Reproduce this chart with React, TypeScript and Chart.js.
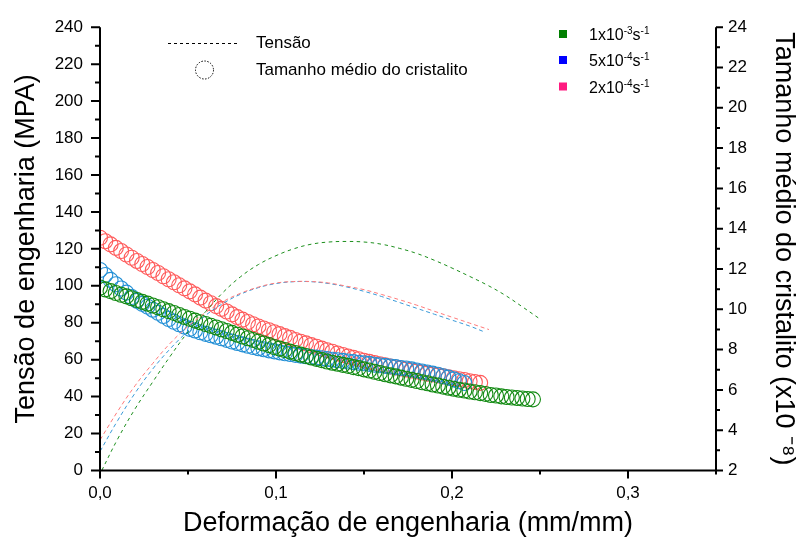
import React, { useEffect, useRef } from 'react';
import { Chart, registerables } from 'chart.js';

Chart.register(...registerables);

const FONT = "'Liberation Sans', Arial, Helvetica, sans-serif";

// ---- Stress curves (Tensão, MPa, left axis) ----
const stressStrainGreen = [0.001, 0.01, 0.02, 0.03, 0.04, 0.05, 0.06, 0.07, 0.08, 0.09, 0.1, 0.11, 0.12, 0.13, 0.14, 0.15, 0.16, 0.17, 0.18, 0.19, 0.2, 0.21, 0.22, 0.23, 0.24, 0.25];
const stressGreen = [0, 17, 33.5, 48, 62, 75, 86, 96.5, 105, 111.5, 116.3, 120, 122.5, 123.7, 124, 123.7, 122.5, 120.3, 117.5, 113.8, 109.6, 105.1, 100.4, 95, 88.6, 82];

const stressStrainRed = [0, 0.01, 0.02, 0.03, 0.04, 0.05, 0.06, 0.07, 0.08, 0.09, 0.1, 0.11, 0.12, 0.13, 0.14, 0.15, 0.16, 0.17, 0.18, 0.19, 0.2, 0.21, 0.221];
const stressRed = [16.5, 32, 46, 58, 69, 78, 85.5, 91.5, 96, 99.3, 101.5, 102.3, 102.3, 101.5, 99.8, 97.9, 95.3, 92.5, 89.5, 86.2, 83, 79.8, 76.3];

const stressStrainBlue = [0, 0.01, 0.02, 0.03, 0.04, 0.05, 0.06, 0.07, 0.08, 0.09, 0.1, 0.11, 0.12, 0.13, 0.14, 0.15, 0.16, 0.17, 0.18, 0.19, 0.2, 0.21, 0.219];
const stressBlue = [10.3, 27, 42, 55, 66, 75.5, 84, 90.5, 95.5, 99, 101.2, 102.2, 102.2, 101.2, 99.4, 97, 94.2, 91, 87.8, 84.6, 81.4, 78.2, 74.8];

// ---- Crystallite size (right axis, x10^-8) ----
const sizeStrain = [0, 0.003, 0.006, 0.009, 0.012, 0.015, 0.018, 0.021, 0.024, 0.027, 0.03, 0.033, 0.036, 0.039, 0.042, 0.045, 0.048, 0.051, 0.054, 0.057, 0.06, 0.063, 0.066, 0.069, 0.072, 0.075, 0.078, 0.081, 0.084, 0.087, 0.09, 0.093, 0.096, 0.099, 0.102, 0.105, 0.108, 0.111, 0.114, 0.117, 0.12, 0.123, 0.126, 0.129, 0.132, 0.135, 0.138, 0.141, 0.144, 0.147, 0.15, 0.153, 0.156, 0.159, 0.162, 0.165, 0.168, 0.171, 0.174, 0.177, 0.18, 0.183, 0.186, 0.189, 0.192, 0.195, 0.198, 0.201, 0.204, 0.207, 0.21, 0.213, 0.216, 0.219, 0.222, 0.225, 0.228, 0.231, 0.234, 0.237, 0.24, 0.243, 0.246];

const sizeGreen = [11.08, 10.99, 10.90, 10.81, 10.72, 10.64, 10.55, 10.46, 10.37, 10.28, 10.19, 10.10, 10.00, 9.91, 9.82, 9.72, 9.62, 9.53, 9.44, 9.36, 9.27, 9.18, 9.10, 9.01, 8.92, 8.83, 8.74, 8.65, 8.56, 8.48, 8.39, 8.30, 8.22, 8.13, 8.05, 7.98, 7.90, 7.83, 7.75, 7.68, 7.61, 7.54, 7.48, 7.41, 7.35, 7.30, 7.24, 7.19, 7.13, 7.08, 7.02, 6.96, 6.90, 6.84, 6.78, 6.72, 6.67, 6.61, 6.55, 6.50, 6.44, 6.38, 6.33, 6.27, 6.22, 6.16, 6.11, 6.06, 6.01, 5.97, 5.92, 5.88, 5.84, 5.80, 5.75, 5.72, 5.68, 5.65, 5.62, 5.60, 5.57, 5.55, 5.53];

const sizeBlue = [11.95, 11.70, 11.46, 11.24, 11.03, 10.83, 10.61, 10.42, 10.27, 10.13, 9.98, 9.83, 9.67, 9.52, 9.38, 9.26, 9.14, 9.03, 8.95, 8.86, 8.78, 8.71, 8.64, 8.56, 8.48, 8.40, 8.33, 8.26, 8.19, 8.13, 8.07, 8.02, 7.96, 7.91, 7.86, 7.82, 7.78, 7.74, 7.70, 7.67, 7.63, 7.60, 7.57, 7.53, 7.50, 7.47, 7.44, 7.41, 7.38, 7.35, 7.32, 7.29, 7.25, 7.22, 7.19, 7.16, 7.13, 7.09, 7.06, 7.02, 6.96, 6.91, 6.86, 6.81, 6.75, 6.68, 6.61, 6.52, 6.43, 6.34];

const sizeRed = [13.55, 13.38, 13.22, 13.05, 12.89, 12.72, 12.56, 12.40, 12.25, 12.10, 11.95, 11.80, 11.64, 11.49, 11.34, 11.19, 11.04, 10.89, 10.74, 10.58, 10.43, 10.30, 10.16, 10.02, 9.89, 9.75, 9.61, 9.49, 9.37, 9.26, 9.15, 9.05, 8.96, 8.86, 8.77, 8.67, 8.58, 8.48, 8.39, 8.31, 8.22, 8.14, 8.05, 7.97, 7.89, 7.81, 7.73, 7.66, 7.59, 7.52, 7.45, 7.39, 7.33, 7.27, 7.22, 7.16, 7.11, 7.06, 7.01, 6.96, 6.91, 6.86, 6.81, 6.77, 6.72, 6.67, 6.62, 6.58, 6.53, 6.49, 6.43, 6.39, 6.35];

// ---- Ticks ----
const strainLabelTicks = [0, 0.1, 0.2, 0.3];
const strainAllTicks = [0, 0.05, 0.1, 0.15, 0.2, 0.25, 0.3, 0.35];
const stressAllTicks = [0, 10, 20, 30, 40, 50, 60, 70, 80, 90, 100, 110, 120, 130, 140, 150, 160, 170, 180, 190, 200, 210, 220, 230, 240];
const sizeAllTicks = [2, 3, 4, 5, 6, 7, 8, 9, 10, 11, 12, 13, 14, 15, 16, 17, 18, 19, 20, 21, 22, 23, 24];

const COLORS = {
  greenCircle: '#128a12',
  blueCircle: '#2490d6',
  redCircle: '#ff5a5a',
  greenDash: '#1d8f1d',
  blueDash: '#3a9ad8',
  redDash: '#ff7a7a',
  legGreen: '#007f00',
  legBlue: '#0000ff',
  legPink: '#ff1a80',
};

const zip = (xs: number[], ys: number[]) => ys.map((y, i) => ({ x: xs[i], y }));

const axesPlugin = {
  id: 'originAxes',
  afterDraw(chart: any) {
    const { ctx, chartArea: a, scales } = chart;
    ctx.save();
    ctx.strokeStyle = '#000';
    ctx.lineWidth = 2;
    ctx.lineCap = 'butt';
    ctx.beginPath();
    ctx.moveTo(a.left, a.top);
    ctx.lineTo(a.left, a.bottom + 1);
    ctx.moveTo(a.left - 1, a.bottom);
    ctx.lineTo(a.right + 1, a.bottom);
    ctx.moveTo(a.right, a.top);
    ctx.lineTo(a.right, a.bottom + 1);
    stressAllTicks.forEach((v) => {
      const y = scales.y.getPixelForValue(v);
      const len = v % 20 === 0 ? 9 : 5;
      ctx.moveTo(a.left, y);
      ctx.lineTo(a.left - len, y);
    });
    sizeAllTicks.forEach((v) => {
      const y = scales.y1.getPixelForValue(v);
      const len = v % 2 === 0 ? 7 : 4;
      ctx.moveTo(a.right, y);
      ctx.lineTo(a.right + len, y);
    });
    strainAllTicks.forEach((v) => {
      const x = scales.x.getPixelForValue(v);
      const major = Math.abs(v * 10 - Math.round(v * 10)) < 1e-6;
      const len = major ? 8 : 4;
      ctx.moveTo(x, a.bottom);
      ctx.lineTo(x, a.bottom + len);
    });
    ctx.stroke();

    // legend symbols
    ctx.lineWidth = 1;
    ctx.setLineDash([3, 3]);
    ctx.beginPath();
    ctx.moveTo(168, 43.5);
    ctx.lineTo(239, 43.5);
    ctx.stroke();
    ctx.setLineDash([1.5, 1.5]);
    ctx.beginPath();
    ctx.arc(204.5, 70, 9, 0, Math.PI * 2);
    ctx.stroke();
    ctx.setLineDash([]);
    ctx.fillStyle = COLORS.legGreen;
    ctx.fillRect(559, 30, 8, 8);
    ctx.fillStyle = COLORS.legBlue;
    ctx.fillRect(559, 56, 8, 8);
    ctx.fillStyle = COLORS.legPink;
    ctx.fillRect(559, 82.5, 8, 8);
    ctx.restore();
  },
};

const tickFont = { family: FONT, size: 17 };
const titleFont = { family: FONT, size: 27 };

export default function App() {
  const canvasRef = useRef<HTMLCanvasElement>(null);

  useEffect(() => {
    const canvas = canvasRef.current;
    if (!canvas) return;
    const circle = (data: { x: number; y: number }[], color: string, order: number) => ({
      type: 'scatter' as const,
      data,
      yAxisID: 'y1',
      showLine: false,
      pointStyle: 'circle',
      pointRadius: 7.5,
      pointBorderWidth: 1.1,
      pointBorderColor: color,
      pointBackgroundColor: 'rgba(0,0,0,0)',
      borderColor: color,
      backgroundColor: 'rgba(0,0,0,0)',
      order,
      clip: { left: 0, top: false, right: false, bottom: false },
    });
    const dashed = (data: { x: number; y: number }[], color: string, dash: number[]) => ({
      type: 'scatter' as const,
      data,
      yAxisID: 'y',
      showLine: true,
      pointRadius: 0,
      borderColor: color,
      borderWidth: 1,
      borderDash: dash,
      tension: 0.4,
      fill: false,
      order: 0,
    });

    const chart = new Chart(canvas, {
      type: 'scatter',
      data: {
        datasets: [
          dashed(zip(stressStrainGreen, stressGreen), COLORS.greenDash, [3.5, 3.5]),
          dashed(zip(stressStrainRed, stressRed), COLORS.redDash, [4, 3]),
          dashed(zip(stressStrainBlue, stressBlue), COLORS.blueDash, [4, 3]),
          circle(zip(sizeStrain, sizeGreen), COLORS.greenCircle, 1),
          circle(zip(sizeStrain, sizeBlue), COLORS.blueCircle, 2),
          circle(zip(sizeStrain, sizeRed), COLORS.redCircle, 3),
        ] as any,
      },
      options: {
        animation: false,
        responsive: false,
        devicePixelRatio: 1,
        events: [],
        layout: { padding: { top: 17.5, left: 0, right: 0, bottom: 0 } },
        plugins: { legend: { display: false }, tooltip: { enabled: false } },
        scales: {
          x: {
            type: 'linear',
            position: 'bottom',
            min: 0,
            max: 0.35,
            afterBuildTicks: (s: any) => {
              s.ticks = strainLabelTicks.map((v) => ({ value: v }));
            },
            afterFit: (s: any) => {
              s.height = 70.5;
            },
            grid: { display: false, drawTicks: false },
            border: { display: false },
            ticks: {
              autoSkip: false,
              maxRotation: 0,
              padding: 13,
              color: '#000',
              font: tickFont,
              callback: (v: any) => Number(v).toFixed(1).replace('.', ','),
            },
            title: {
              display: true,
              text: 'Deformação de engenharia (mm/mm)',
              color: '#000',
              font: titleFont,
              padding: { top: 0, bottom: 0.8 },
            },
          },
          y: {
            type: 'linear',
            position: 'left',
            min: 0,
            max: 240,
            afterFit: (s: any) => {
              s.width = 100;
            },
            grid: { display: false, drawTicks: false },
            border: { display: false },
            ticks: { stepSize: 20, padding: 17, color: '#000', font: tickFont },
            title: {
              display: true,
              text: 'Tensão de engenharia (MPA)',
              color: '#000',
              font: titleFont,
              padding: { top: 10.8, bottom: 0 },
            },
          },
          y1: {
            type: 'linear',
            position: 'right',
            min: 2,
            max: 24,
            afterFit: (s: any) => {
              s.width = 89;
            },
            grid: { display: false, drawTicks: false },
            border: { display: false },
            ticks: { stepSize: 2, padding: 12, color: '#000', font: tickFont },
            title: {
              display: true,
              text: 'Tamanho médio do cristalito (x10 ⁻⁸)',
              color: '#000',
              font: titleFont,
              padding: { top: 5.8, bottom: 0 },
            },
          },
        },
      },
      plugins: [axesPlugin],
    } as any);
    return () => chart.destroy();
  }, []);

  const supStyle: React.CSSProperties = { fontSize: 10, position: 'relative', top: -6, verticalAlign: 'baseline' };
  const textBase: React.CSSProperties = { position: 'absolute', whiteSpace: 'nowrap', color: '#000', fontFamily: FONT };

  return (
    <div style={{ position: 'absolute', left: 0, top: 0, width: 805, height: 541, background: '#fff', overflow: 'hidden' }}>
      <canvas
        ref={canvasRef}
        width={805}
        height={541}
        style={{ position: 'absolute', left: 0, top: 0, width: 805, height: 541 }}
      />
      <div style={{ ...textBase, left: 256, top: 34, fontSize: 17, lineHeight: '17px' }}>Tensão</div>
      <div style={{ ...textBase, left: 256, top: 60.6, fontSize: 17, lineHeight: '17px' }}>Tamanho médio do cristalito</div>
      <div style={{ ...textBase, left: 589, top: 26.5, fontSize: 16, lineHeight: '16px' }}>
        1x10<span style={supStyle}>-3</span>s<span style={supStyle}>-1</span>
      </div>
      <div style={{ ...textBase, left: 589, top: 53, fontSize: 16, lineHeight: '16px' }}>
        5x10<span style={supStyle}>-4</span>s<span style={supStyle}>-1</span>
      </div>
      <div style={{ ...textBase, left: 589, top: 79.5, fontSize: 16, lineHeight: '16px' }}>
        2x10<span style={supStyle}>-4</span>s<span style={supStyle}>-1</span>
      </div>
    </div>
  );
}
